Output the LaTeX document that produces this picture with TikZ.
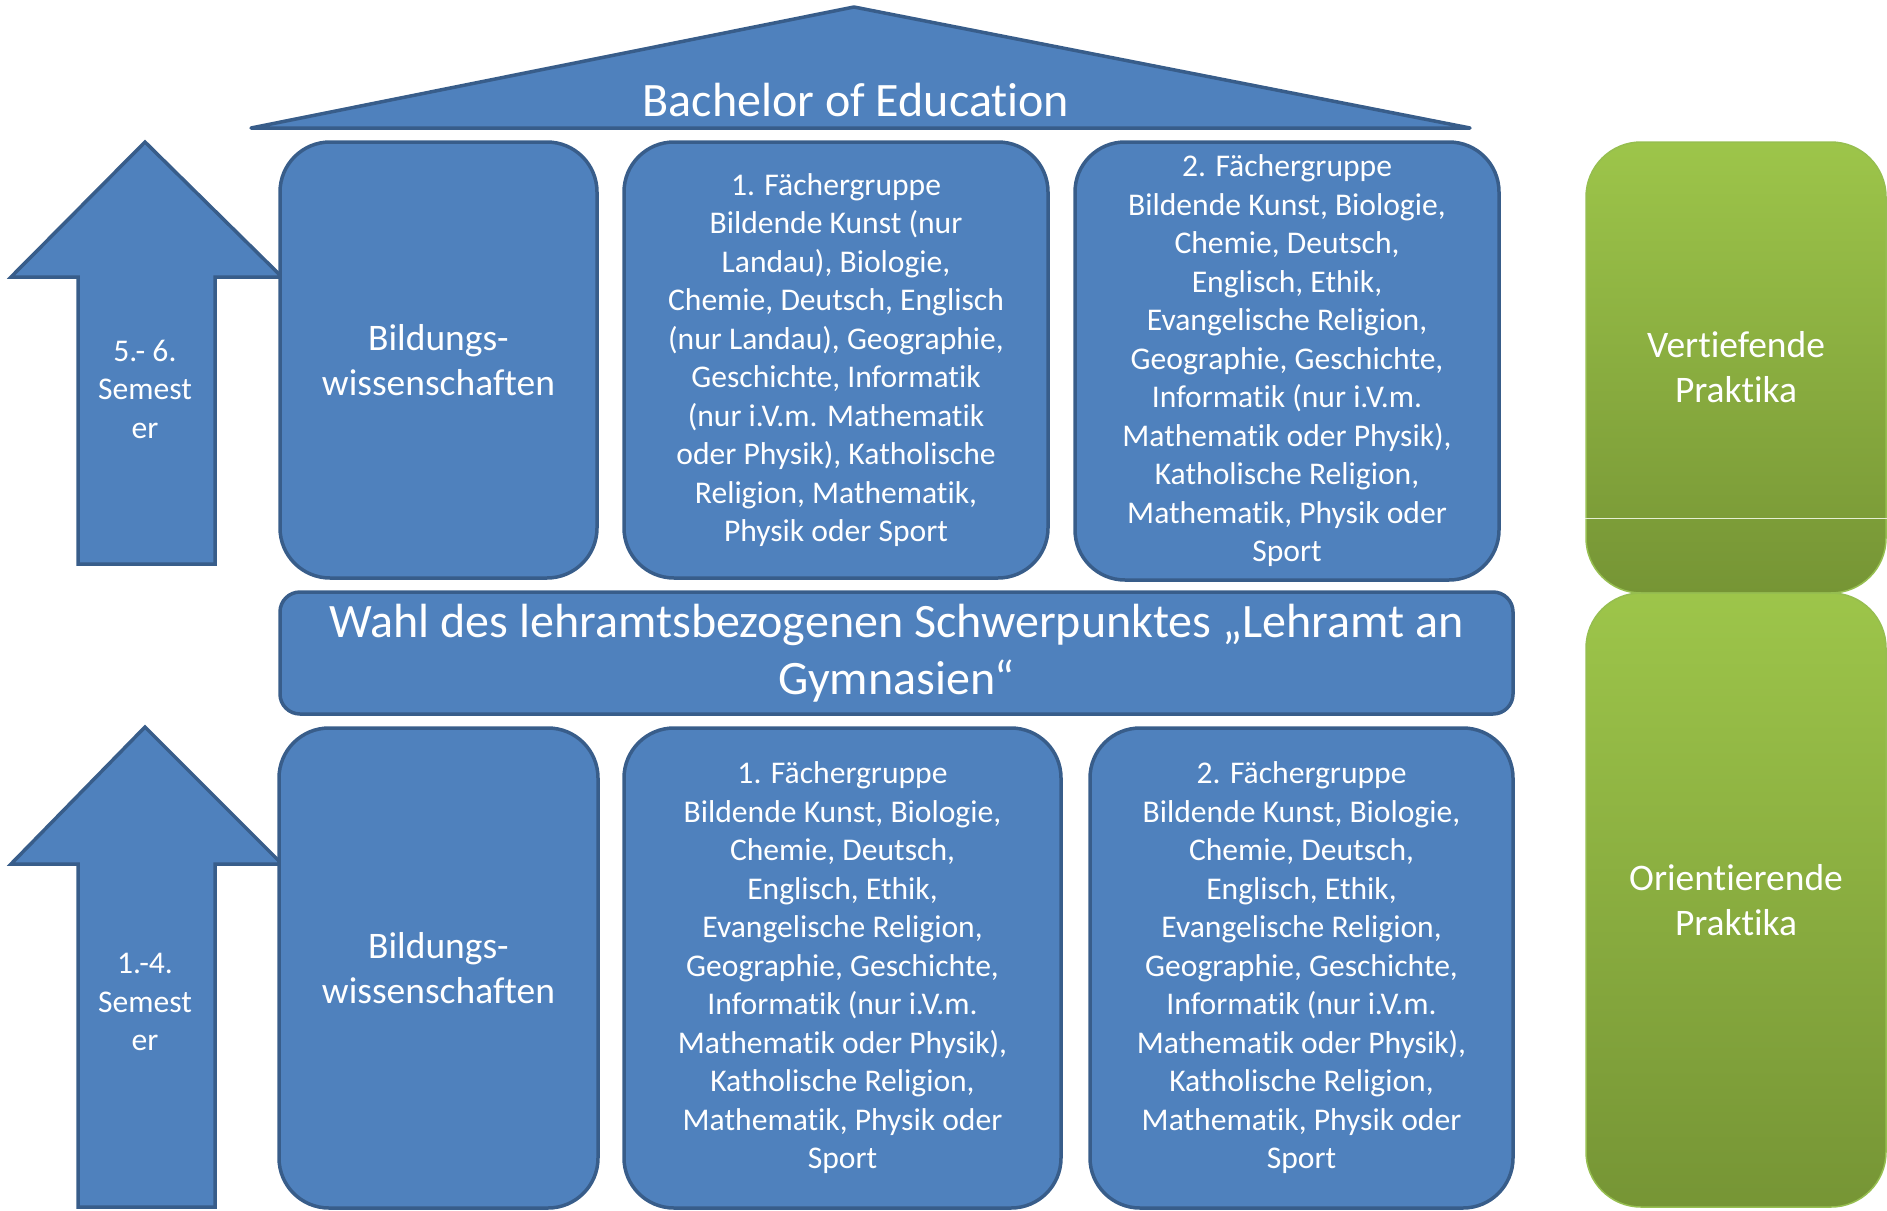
\documentclass[tikz,border=0pt]{standalone}
\usepackage{fontspec}
\setmainfont{Carlito}[Ligatures={NoCommon}]

\definecolor{boxblue}{RGB}{79,129,189}
\definecolor{boxline}{RGB}{56,93,138}
\definecolor{praxtop}{RGB}{157,197,74}
\definecolor{praxbot}{RGB}{118,149,53}
\definecolor{praxline}{RGB}{150,190,80}

\newcommand\fachfont{\fontsize{31.6}{38.5}\selectfont}
\newcommand\midfont{\fontsize{37.5}{45}\selectfont}
\newcommand\bigfont{\fontsize{48}{57}\selectfont}

\tikzset{
  bluebox/.style={draw=boxline, fill=boxblue, line width=3.5pt, rounded corners=50pt,
    text=white, align=center, inner sep=0pt},
  praxbox/.style={draw=praxline, line width=1.5pt, top color=praxtop, bottom color=praxbot,
    rounded corners=55pt, text=white, align=center, inner sep=0pt, minimum width=300pt},
  bluearrow/.style={draw=boxline, fill=boxblue, line width=3.5pt, line join=miter},
  whitetext/.style={text=white, align=center, inner sep=0pt}
}

\begin{document}
\begin{tikzpicture}[x=1pt, y=-1pt]
    \useasboundingbox (0,0) rectangle (1887,1210);

    \draw[bluearrow, line join=round] (251,128) -- (854,7) -- (1470,128) -- cycle;
    \node[whitetext, font=\bigfont] (bachelor) at (856,100) {Bachelor of Education};

    \draw[bluearrow] (145,142) -- (282,277) -- (215,277) -- (215,564) -- (78,564) -- (78,277) -- (11,277) -- cycle;
    \node[whitetext, font=\fachfont] (semoben) at (145,389) {5.- 6.\\Semest\\er};

    \draw[bluearrow] (145,727) -- (282,864) -- (215,864) -- (215,1207) -- (78,1207) -- (78,864) -- (11,864) -- cycle;
    \node[whitetext, font=\fachfont] (semunten) at (145,1002) {1.-4.\\Semest\\er};

    \node[bluebox, font=\midfont, minimum width=317pt, minimum height=436pt] (bildoben) at (438.5,360)
        {Bildungs-\\wissenschaften};
    \node[bluebox, font=\fachfont, minimum width=424pt, minimum height=436pt] (fach1oben) at (836,360)
        {1. Fächergruppe\\Bildende Kunst (nur\\Landau), Biologie,\\Chemie, Deutsch, Englisch\\(nur Landau), Geographie,\\Geschichte, Informatik\\(nur i.V.m. Mathematik\\oder Physik), Katholische\\Religion, Mathematik,\\Physik oder Sport};
    \node[bluebox, font=\fachfont, minimum width=424pt, minimum height=438pt] (fach2oben) at (1287,361)
        {2. Fächergruppe\\Bildende Kunst, Biologie,\\Chemie, Deutsch,\\Englisch, Ethik,\\Evangelische Religion,\\Geographie, Geschichte,\\Informatik (nur i.V.m.\\Mathematik oder Physik),\\Katholische Religion,\\Mathematik, Physik oder\\Sport};

    \node[bluebox, font=\bigfont, rounded corners=20pt, minimum width=1233pt, minimum height=122pt] (wahl) at (896.5,653)
        {Wahl des lehramtsbezogenen Schwerpunktes „Lehramt an\\Gymnasien“};

    \node[bluebox, font=\midfont, minimum width=319pt, minimum height=480pt] (bildunten) at (438.5,968)
        {Bildungs-\\wissenschaften};
    \node[bluebox, font=\fachfont, minimum width=437pt, minimum height=480pt] (fach1unten) at (842.5,968)
        {1. Fächergruppe\\Bildende Kunst, Biologie,\\Chemie, Deutsch,\\Englisch, Ethik,\\Evangelische Religion,\\Geographie, Geschichte,\\Informatik (nur i.V.m.\\Mathematik oder Physik),\\Katholische Religion,\\Mathematik, Physik oder\\Sport};
    \node[bluebox, font=\fachfont, minimum width=423pt, minimum height=480pt] (fach2unten) at (1301.5,968)
        {2. Fächergruppe\\Bildende Kunst, Biologie,\\Chemie, Deutsch,\\Englisch, Ethik,\\Evangelische Religion,\\Geographie, Geschichte,\\Informatik (nur i.V.m.\\Mathematik oder Physik),\\Katholische Religion,\\Mathematik, Physik oder\\Sport};

    \node[praxbox, font=\midfont, minimum height=451pt] (vertiefend) at (1736,367.5) {Vertiefende\\Praktika};
    \draw[white!75!praxline, line width=1pt] ([yshift=75pt]vertiefend.south west) -- ([yshift=75pt]vertiefend.south east);
    \node[praxbox, font=\midfont, minimum height=614pt] (orientierend) at (1736,900) {Orientierende\\Praktika};
\end{tikzpicture}
\end{document}
